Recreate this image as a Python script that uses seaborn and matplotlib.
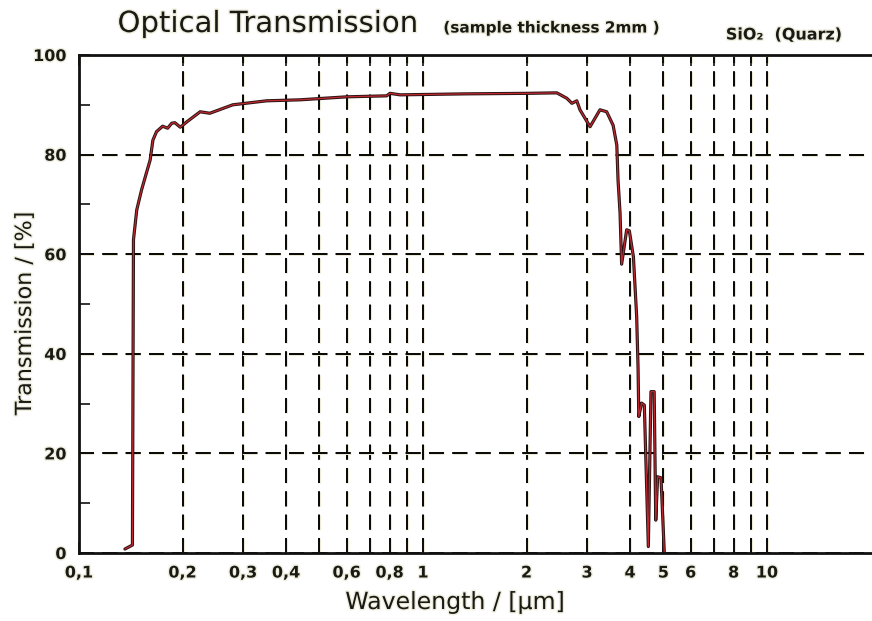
import matplotlib
matplotlib.use("Agg")
import matplotlib.pyplot as plt
import matplotlib.patheffects as pe
from matplotlib.ticker import FixedLocator, FixedFormatter
import pandas as pd
import seaborn as sns

# Werte (Wellenlaenge in um, Transmission in %)
wavelength = [0.136, 0.143, 0.1440, 0.1472, 0.152, 0.157, 0.161, 0.164, 0.168,
              0.175, 0.181, 0.186, 0.190, 0.197, 0.206, 0.225, 0.240, 0.280,
              0.351, 0.439, 0.600, 0.784, 0.802, 0.839, 0.858, 1.34, 2.00,
              2.45, 2.62, 2.71, 2.80, 2.86, 3.06, 3.27, 3.42, 3.57, 3.66,
              3.69, 3.74, 3.78, 3.91, 3.98, 4.09, 4.18, 4.22, 4.24, 4.32,
              4.40, 4.52, 4.60, 4.70, 4.75, 4.81, 4.92, 5.03]
transmission = [0.8, 1.6, 62.9, 68.9, 72.9, 76.3, 78.9, 82.9, 84.6,
                85.7, 85.3, 86.3, 86.4, 85.5, 86.6, 88.6, 88.3, 90.0,
                90.8, 91.0, 91.6, 91.8, 92.3, 92.1, 92.0, 92.2, 92.3,
                92.4, 91.3, 90.3, 90.8, 89.0, 85.6, 89.0, 88.6, 85.9, 81.9,
                74.9, 68.3, 58.0, 64.9, 64.7, 59.5, 47.5, 37.0, 27.4, 30.1,
                29.7, 1.3, 32.4, 32.4, 6.6, 15.3, 15.1, 0.0]

x_grid = [0.1, 0.2, 0.3, 0.4, 0.5, 0.6, 0.7, 0.8, 0.9, 1, 2, 3, 4, 5, 6, 7, 8, 9, 10]
x_labels = ['0,1', '0,2', '0,3', '0,4', '', '0,6', '', '0,8', '', '1',
            '2', '3', '4', '5', '6', '', '8', '', '10']
y_major = [0, 20, 40, 60, 80, 100]
y_minor = [10, 30, 50, 70, 90]

df = pd.DataFrame({'wl': wavelength, 'T': transmission})

sns.set_style('white')
plt.rcParams['font.family'] = ['DejaVu Sans']

txt = '#1a1a14'
halo = [pe.withStroke(linewidth=2, foreground='#eeedde')]

fig = plt.figure(figsize=(8.72, 6.21), dpi=100)
ax = fig.add_axes([79 / 872, 1 - 553 / 621, (872 - 79) / 872, (553 - 55) / 621])

# Kurve: dunkler Rand mit roter Mitte
sns.lineplot(data=df, x='wl', y='T', ax=ax, color='#2a1414', linewidth=2.3,
             sort=False, estimator=None)
sns.lineplot(data=df, x='wl', y='T', ax=ax, color='#c02830', linewidth=0.9,
             sort=False, estimator=None)

ax.set_xscale('log')
ax.set_xlim(0.1, 20.2)
ax.set_ylim(0, 100)

ax.xaxis.set_major_locator(FixedLocator(x_grid))
ax.xaxis.set_major_formatter(FixedFormatter(x_labels))
ax.xaxis.set_minor_locator(FixedLocator([]))
ax.yaxis.set_major_locator(FixedLocator(y_major))
ax.yaxis.set_minor_locator(FixedLocator(y_minor))

ax.grid(True, which='major', color='#050505', linewidth=1.2,
        linestyle=(0, (9, 5)),
        path_effects=[pe.withStroke(linewidth=2.2, foreground='#ecead6'), pe.Normal()])
ax.set_axisbelow(True)

ax.tick_params(axis='x', which='both', direction='in', top=True, bottom=True,
               length=8, width=1.2, color='#111111', pad=9,
               labelsize=11.5, labelcolor=txt)
ax.tick_params(axis='y', which='both', direction='in', left=True, right=False,
               length=8, width=1.2, color='#111111', pad=9,
               labelsize=11.5, labelcolor=txt)
for lab in ax.get_xticklabels() + ax.get_yticklabels():
    lab.set_fontweight('bold')
    lab.set_path_effects(halo)

for side in ['left', 'bottom', 'top']:
    ax.spines[side].set_color('#111111')
    ax.spines[side].set_linewidth(2)
ax.spines['right'].set_visible(False)

ax.set_xlabel('')
ax.set_ylabel('')

# Titel und Achsenbeschriftungen
fig.text(268 / 872, 1 - 24 / 621, 'Optical Transmission', fontsize=21,
         color=txt, ha='center', va='center', path_effects=halo)
fig.text(551 / 872, 1 - 28 / 621, '(sample thickness 2mm )', fontsize=11,
         fontweight='bold', color=txt, ha='center', va='center', path_effects=halo)
fig.text(784 / 872, 1 - 35 / 621, 'SiO\u2082  (Quarz)', fontsize=11.5,
         fontweight='bold', color=txt, ha='center', va='center', path_effects=halo)
fig.text(455 / 872, 1 - 602 / 621, 'Wavelength / [\u03bcm]', fontsize=17,
         color=txt, ha='center', va='center', path_effects=halo)
fig.text(25 / 872, 1 - 313 / 621, 'Transmission / [%]', fontsize=16,
         color=txt, ha='center', va='center', rotation=90, path_effects=halo)

fig.savefig('out.png', dpi=100, facecolor='white')
